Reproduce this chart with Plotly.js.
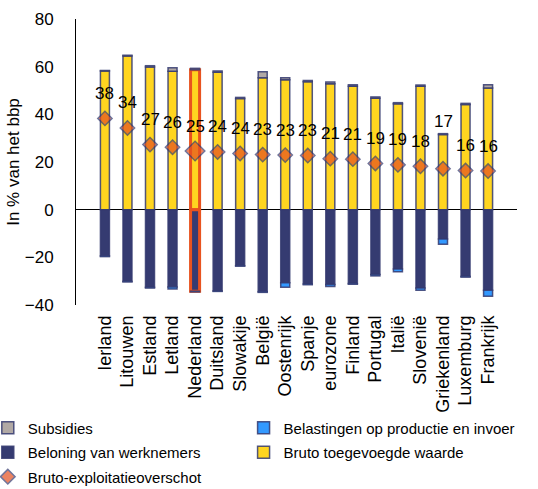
<!DOCTYPE html>
<html><head><meta charset="utf-8">
<script src="https://cdn.plot.ly/plotly-3.0.1.min.js"></script>
<style>html,body{margin:0;padding:0;background:#fff}#chart{width:538px;height:489px}</style>
</head><body><div id="chart"></div>
<script>
const categories = ['Ierland','Litouwen','Estland','Letland','Nederland','Duitsland','Slowakije','België','Oostenrijk','Spanje','eurozone','Finland','Portugal','Italië','Slovenië','Griekenland','Luxemburg','Frankrijk'];
const valueAdded = [58.2, 64.5, 59.9, 58.1, 58.7, 57.7, 46.6, 55.3, 54.5, 53.7, 52.8, 51.8, 46.8, 44.4, 51.8, 31.5, 44.1, 51.1];
const subsidies = [0.2, 0.3, 0.5, 1.4, 0.6, 0.5, 0.5, 2.6, 0.9, 0.5, 0.8, 0.6, 0.5, 0.5, 0.5, 0.4, 0.5, 1.3];
const compensation = [-19.4, -30.1, -32.6, -32.4, -34.2, -34.1, -23.5, -34.4, -30.7, -31.2, -31.4, -31.0, -27.2, -24.9, -32.9, -12.3, -28.0, -33.8];
const taxes = [-0.3, -0.2, -0.3, -0.9, -0.3, -0.2, -0.2, -0.3, -1.8, -0.3, -0.8, -0.3, -0.6, -1.2, -0.9, -2.2, -0.3, -2.5];
const operatingSurplus = [38.3, 34.3, 27.3, 26.2, 24.6, 24.2, 23.6, 23.1, 22.9, 22.7, 21.4, 21.2, 19.4, 18.8, 18.2, 17.2, 16.4, 16.2];
const yTicks = [-40, -20, 0, 20, 40, 60, 80];
const highlight = 'Nederland';

const NAVY = '#353B71', OUT = 'rgba(52,57,112,0.85)', ORANGE = '#E8531F';
const isHi = categories.map(c => c === highlight);
const hiLine = {color: isHi.map(h => h ? ORANGE : OUT), width: isHi.map(h => h ? 3 : 1.5)};
const BW = 0.4;

const traces = [
  {type:'bar', name:'Bruto toegevoegde waarde', x:categories, y:valueAdded, width:BW,
   marker:{color:'#FFD520', line:hiLine}, legend:'legend2', legendgroup:'g4', legendrank:4},
  {type:'bar', name:'Subsidies', x:categories, y:subsidies, width:BW,
   marker:{color:'#B1A9A5', line:{color:OUT, width:1.5}}, legend:'legend', legendgroup:'g1', legendrank:1},
  {type:'bar', name:'Beloning van werknemers', x:categories, y:compensation, width:BW,
   marker:{color:NAVY, line:hiLine}, legend:'legend', legendgroup:'g3', legendrank:3},
  {type:'bar', name:'Belastingen op productie en invoer', x:categories, y:taxes, width:BW,
   marker:{color:'#3399FF', line:{color:OUT, width:1.5}}, legend:'legend2', legendgroup:'g2', legendrank:2},
  {type:'scatter', mode:'markers', name:'Bruto-exploitatieoverschot', x:categories, y:operatingSurplus,
   marker:{symbol:'diamond', color:'#E4501F', size:isHi.map(h => h ? 15 : 11), line:{color:NAVY, width:1.5}},
   legend:'legend', legendgroup:'g5', legendrank:5}
];

const annotations = categories.map((c, i) => ({
  x: c, y: operatingSurplus[i], text: String(Math.round(operatingSurplus[i])),
  showarrow: false, yshift: c === 'Griekenland' ? 47 : 25, font: {size: 17, color: '#000'}
}));

const legendBase = {orientation: 'v', xanchor: 'left', y: -0.372, yanchor: 'top',
  font: {size: 15}, traceorder: 'grouped', tracegroupgap: 2, bgcolor: 'rgba(0,0,0,0)'};

const layout = {
  width: 538, height: 489,
  margin: {l: 76, r: 21, t: 19, b: 184, autoexpand: false},
  barmode: 'relative',
  paper_bgcolor: '#fff', plot_bgcolor: '#fff',
  font: {family: 'Liberation Sans, Arial, sans-serif', color: '#000'},
  showlegend: true,
  xaxis: {type: 'category', showline: false, ticks: '', tickangle: -90, tickfont: {size: 18},
          ticklabelstandoff: 6, showgrid: false, zeroline: false},
  yaxis: {range: [-40, 80], tickvals: yTicks, showline: true, linecolor: '#000', linewidth: 1,
          zeroline: true, zerolinecolor: '#000', zerolinewidth: 1, showgrid: false, ticks: '',
          tickfont: {size: 17}, ticklabelstandoff: 18, automargin: true,
          title: {text: 'In % van het bbp', font: {size: 17}, standoff: 0}},
  legend: Object.assign({}, legendBase, {x: -0.2}),
  legend2: Object.assign({}, legendBase, {x: 0.38}),
  annotations: annotations
};

Plotly.newPlot('chart', traces, layout, {staticPlot: true, displayModeBar: false});
</script>
</body></html>
